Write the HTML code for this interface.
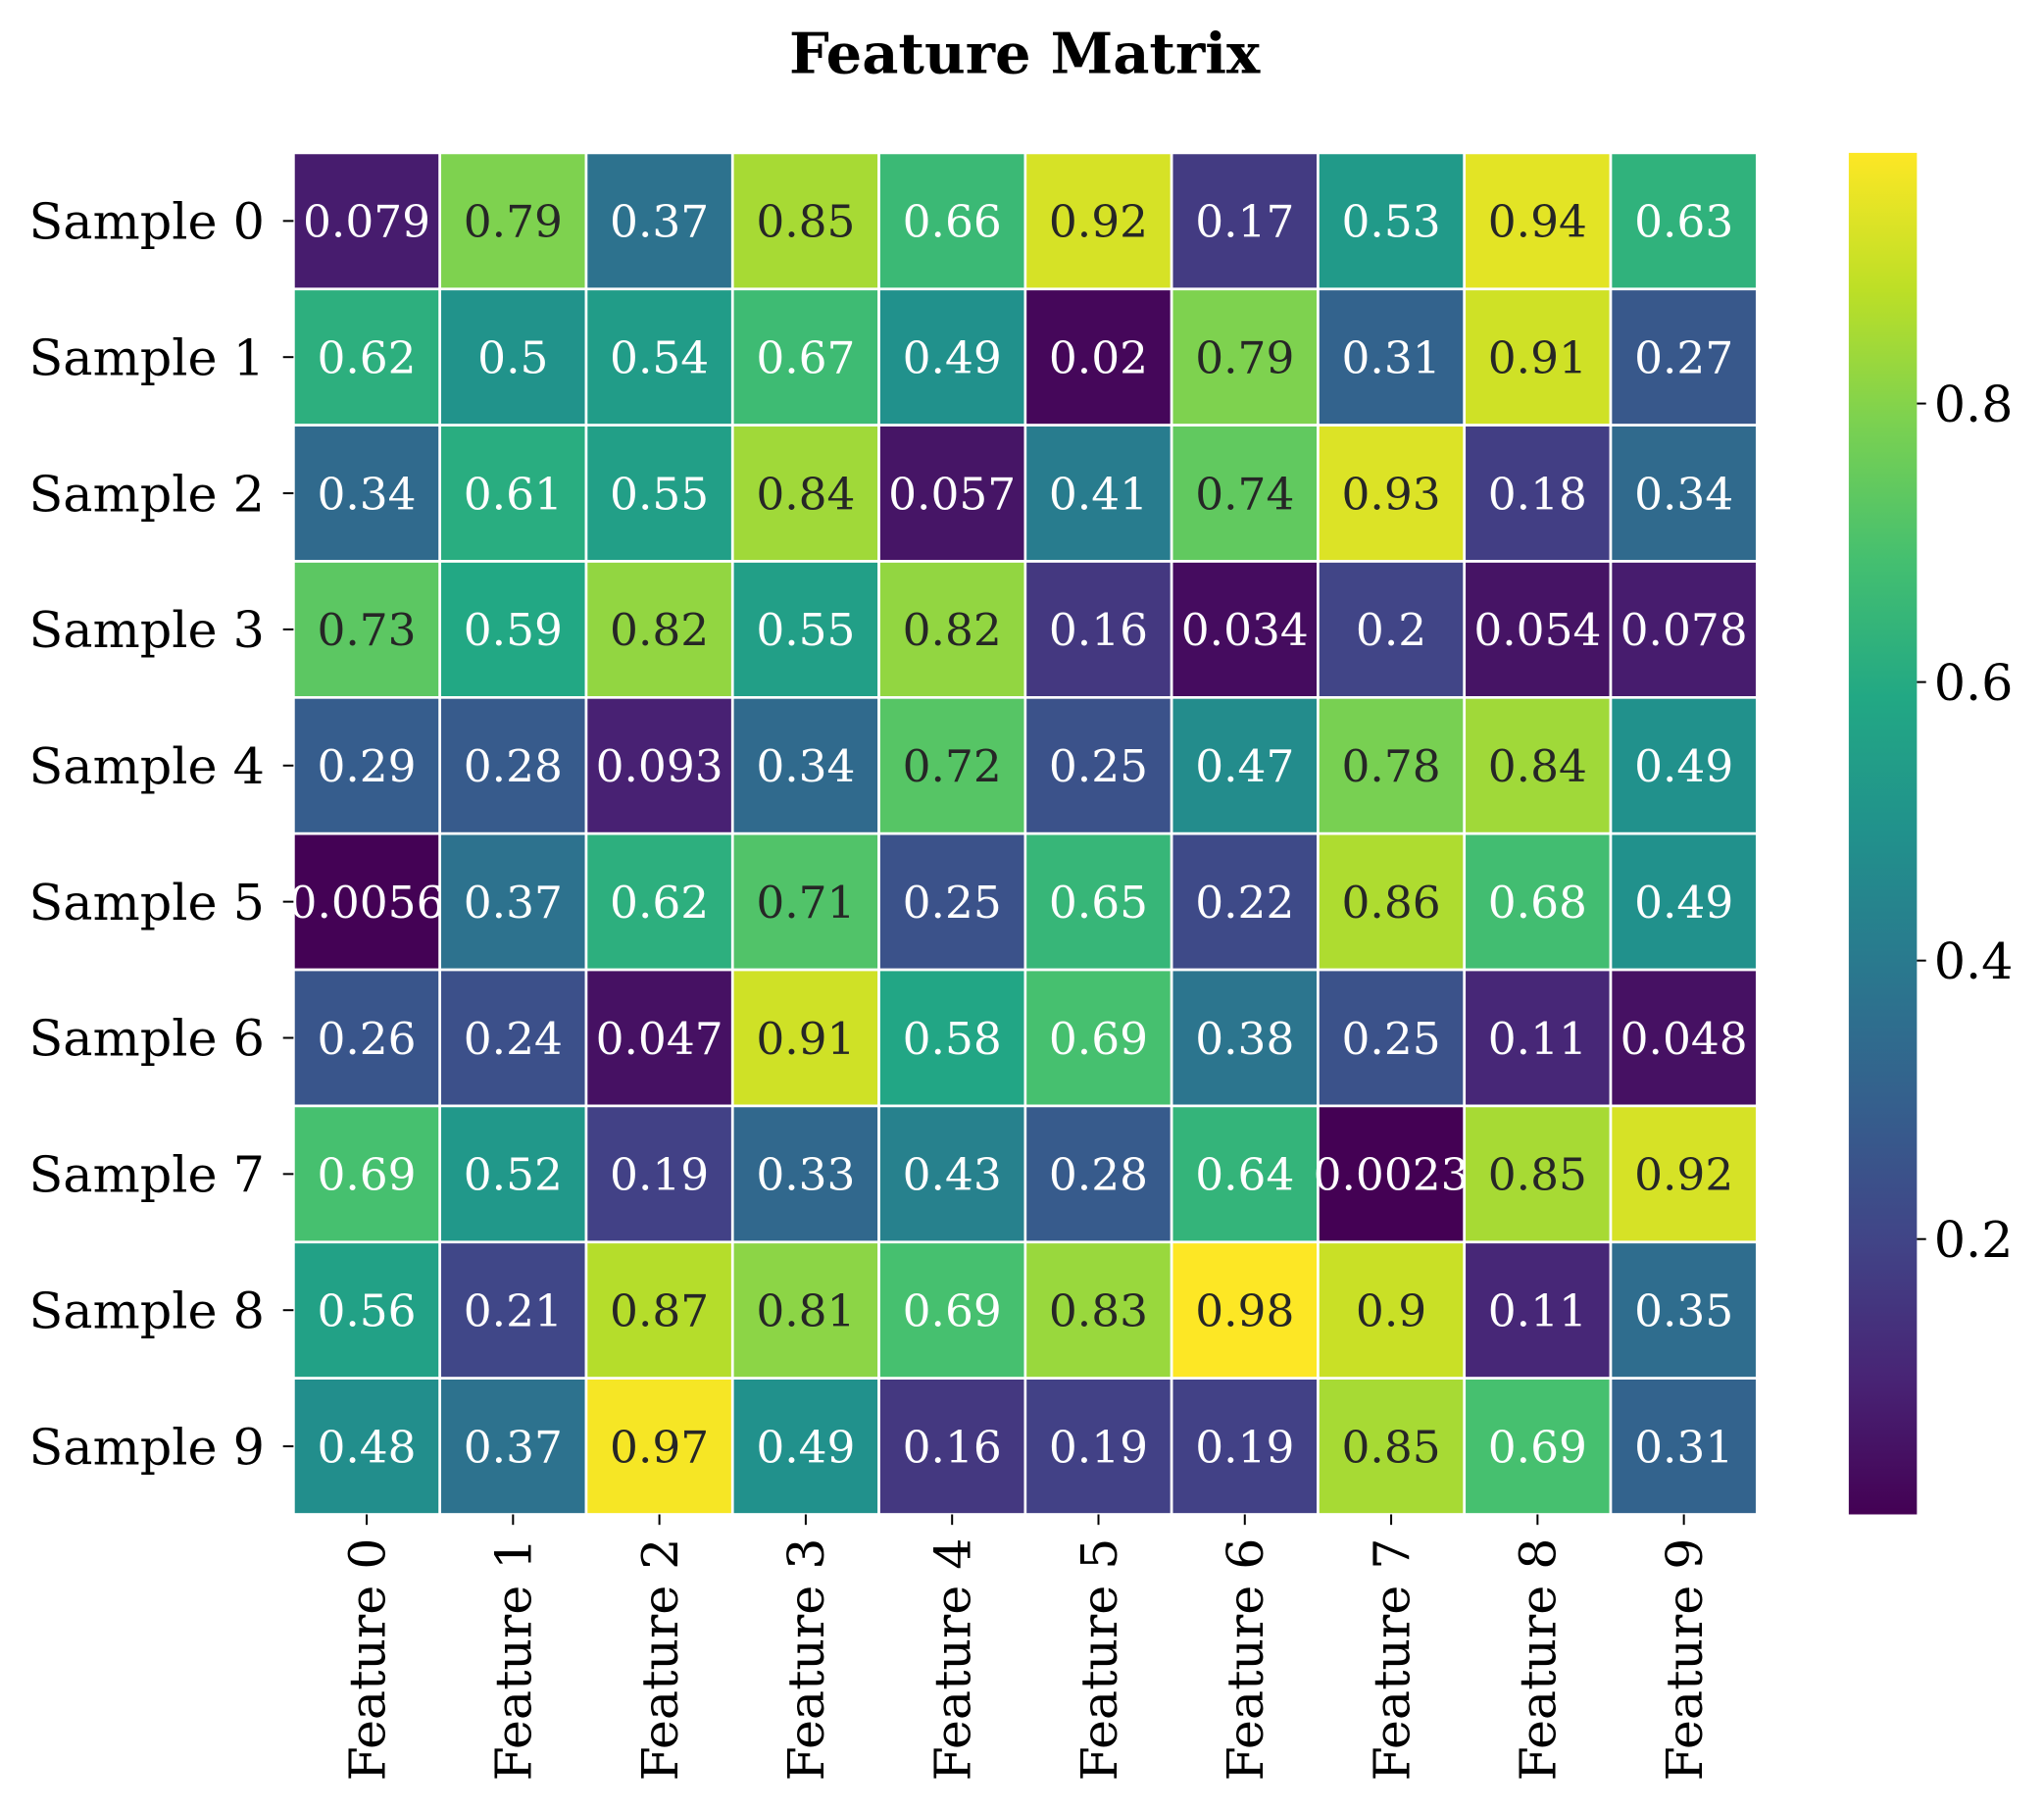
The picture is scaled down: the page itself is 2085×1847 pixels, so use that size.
<!DOCTYPE html>
<html><head><meta charset="utf-8"><style>html,body{margin:0;padding:0;background:#fff}svg{display:block}</style></head>
<body>
<svg id="chart" width="2085" height="1847" viewBox="0 0 1560 1386" preserveAspectRatio="none" xmlns="http://www.w3.org/2000/svg" font-family="'DejaVu Serif','Liberation Serif',serif">
<defs><linearGradient id="vir" x1="0" y1="1" x2="0" y2="0"></linearGradient></defs>
<text x="782" y="56" text-anchor="middle" font-size="43" font-weight="bold">Feature Matrix</text>
<g id="cells"></g><g id="ylabels"></g><g id="xlabels"></g>
<rect x="1411" y="117" width="52" height="1042" fill="url(#vir)"/>
<g id="cbticks"></g>
</svg>
<script>
const rowLabels=["Sample 0","Sample 1","Sample 2","Sample 3","Sample 4","Sample 5","Sample 6","Sample 7","Sample 8","Sample 9"];
const colLabels=["Feature 0","Feature 1","Feature 2","Feature 3","Feature 4","Feature 5","Feature 6","Feature 7","Feature 8","Feature 9"];
const values=[
[0.079,0.79,0.37,0.85,0.66,0.92,0.17,0.53,0.94,0.63],
[0.62,0.5,0.54,0.67,0.49,0.02,0.79,0.31,0.91,0.27],
[0.34,0.61,0.55,0.84,0.057,0.41,0.74,0.93,0.18,0.34],
[0.73,0.59,0.82,0.55,0.82,0.16,0.034,0.2,0.054,0.078],
[0.29,0.28,0.093,0.34,0.72,0.25,0.47,0.78,0.84,0.49],
[0.0056,0.37,0.62,0.71,0.25,0.65,0.22,0.86,0.68,0.49],
[0.26,0.24,0.047,0.91,0.58,0.69,0.38,0.25,0.11,0.048],
[0.69,0.52,0.19,0.33,0.43,0.28,0.64,0.0023,0.85,0.92],
[0.56,0.21,0.87,0.81,0.69,0.83,0.98,0.9,0.11,0.35],
[0.48,0.37,0.97,0.49,0.16,0.19,0.19,0.85,0.69,0.31]];
const cbTicks=[0.2,0.4,0.6,0.8];
const NS="http://www.w3.org/2000/svg";
const vir=[[68,1,84],[72,36,117],[65,68,135],[53,95,141],[42,120,142],[33,145,140],[34,168,132],[68,191,112],[122,209,81],[189,223,38],[253,231,37]];
function viridis(t){t=Math.max(0,Math.min(1,t));const p=t*(vir.length-1),i=Math.min(Math.floor(p),vir.length-2),f=p-i;const c=vir[i].map((a,k)=>Math.round(a+(vir[i+1][k]-a)*f));return `rgb(${c})`;}
const flat=values.flat();const vmin=Math.min(...flat),vmax=Math.max(...flat);
const L=224,R=1341,T=117,B=1159;
const FS=38, XS=38, VS=34;
const cw=(R-L)/colLabels.length,ch=(B-T)/rowLabels.length;
const xPos=j=>L+j*cw, yPos=i=>T+i*ch;
const norm=v=>(v-vmin)/(vmax-vmin);
function mk(tag,attrs,parent){const e=document.createElementNS(NS,tag);for(const k in attrs)e.setAttribute(k,attrs[k]);parent.appendChild(e);return e;}
const cells=document.getElementById('cells');
values.forEach((row,i)=>row.forEach((v,j)=>{
 const r=mk('rect',{x:xPos(j),y:yPos(i),width:cw,height:ch,fill:viridis(norm(v)),stroke:'#fff','stroke-width':2},cells);
 
 
 const t=mk('text',{x:xPos(j)+cw/2,y:yPos(i)+ch/2+VS*0.36,'text-anchor':'middle','font-size':VS,fill:norm(v)>0.715?'#262626':'#fff'},cells);
 t.textContent=String(v);
 
 
}));
const yl=document.getElementById('ylabels');
rowLabels.forEach((s,i)=>{const y=yPos(i)+ch/2;
 const tk=mk('line',{x1:L-8,x2:L,y1:y,y2:y,stroke:'#000','stroke-width':1.5},yl);
 
 
 const t=mk('text',{x:L-22,y:y+FS*0.36,'text-anchor':'end','font-size':FS},yl);t.textContent=s;
 
 });
const xl=document.getElementById('xlabels');
colLabels.forEach((s,j)=>{const x=xPos(j)+cw/2;
 const tk=mk('line',{x1:x,x2:x,y1:B,y2:B+8,stroke:'#000','stroke-width':1.5},xl);
 
 
 const xx=x+XS*0.36, yy=B+18;
 const t=mk('text',{x:xx,y:yy,'text-anchor':'end','font-size':XS,transform:`rotate(-90 ${xx} ${yy})`},xl);t.textContent=s;
 
 });
const g=document.getElementById('vir');
vir.forEach((c,k)=>{const s=mk('stop',{offset:(k/(vir.length-1)),'stop-color':`rgb(${c})`},g);});
const cb=document.getElementById('cbticks');
cbTicks.forEach(v=>{const y=B-(v-vmin)/(vmax-vmin)*(B-T);
 const tk=mk('line',{x1:1463,x2:1470,y1:y,y2:y,stroke:'#000','stroke-width':1.5},cb);
 
 
 const t=mk('text',{x:1476,y:y+FS*0.36,'font-size':FS},cb);t.textContent=v.toFixed(1);
 
 });
</script>
</body></html>
